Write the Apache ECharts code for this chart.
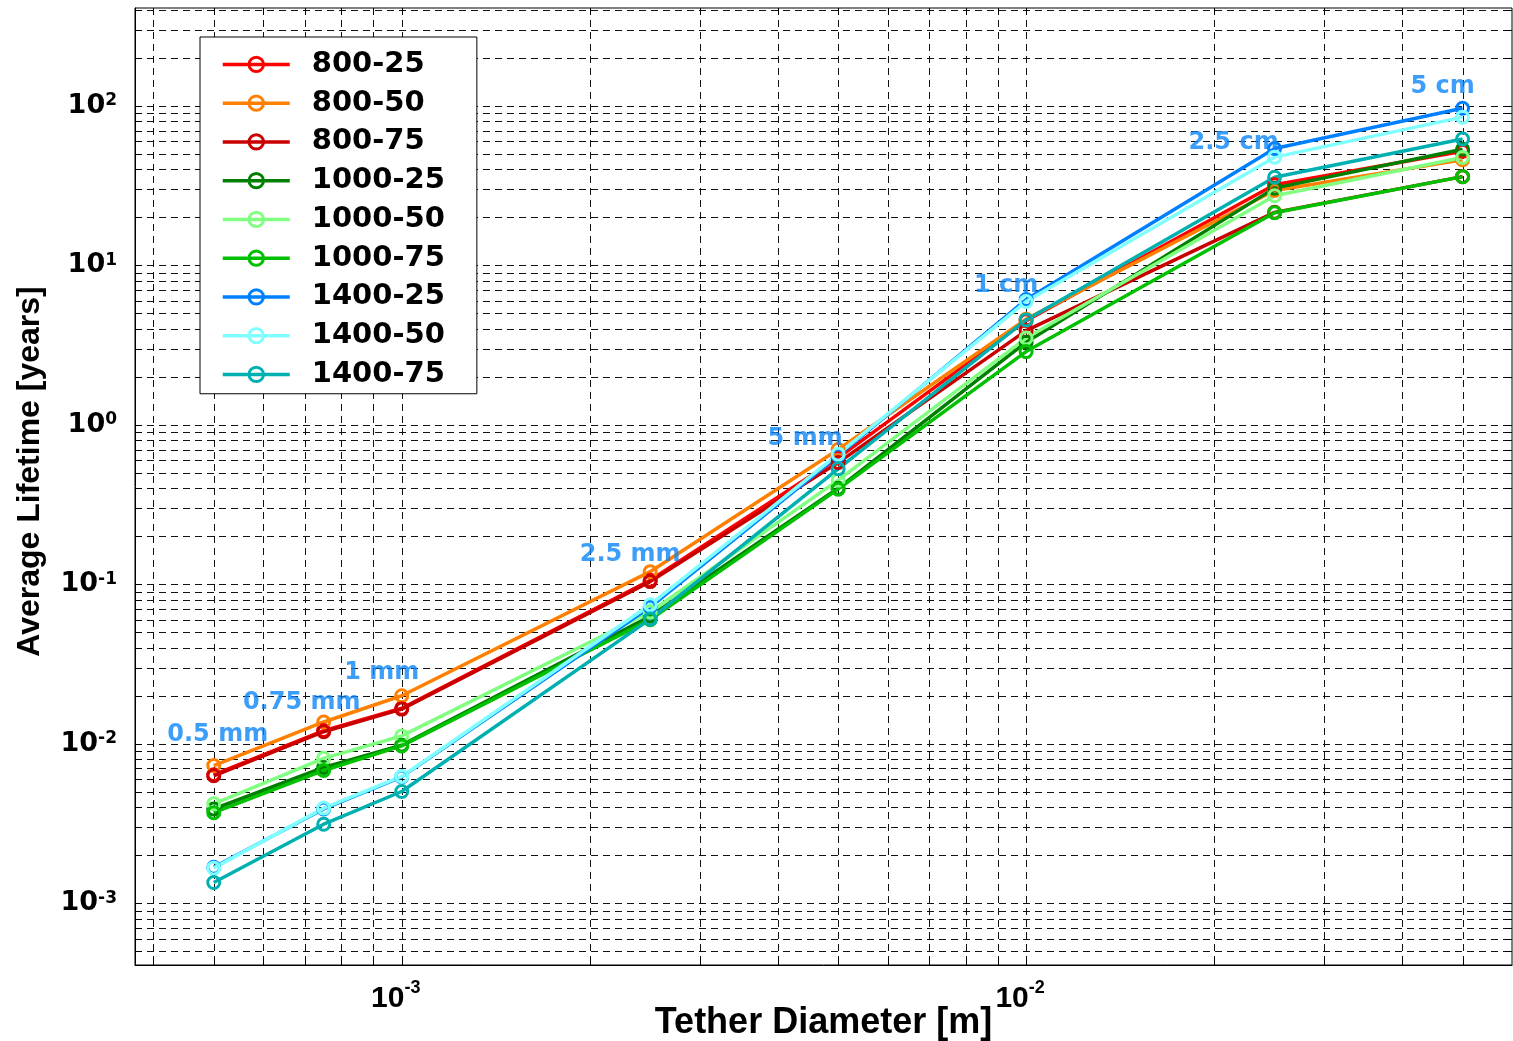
<!DOCTYPE html>
<html>
<head>
<meta charset="utf-8">
<script src="https://cdn.jsdelivr.net/npm/echarts@6/dist/echarts.min.js"></script>
<style>
  html, body { margin: 0; padding: 0; background: #fff; }
  #chart { width: 1513px; height: 1041px; }
</style>
</head>
<body>
<div id="chart"></div>
<script>
// Tether diameters [m] and their short labels
const diameters = [5e-4, 7.5e-4, 1e-3, 2.5e-3, 5e-3, 1e-2, 2.5e-2, 5e-2];
const diameterLabels = ['0.5 mm', '0.75 mm', '1 mm', '2.5 mm', '5 mm', '1 cm', '2.5 cm', '5 cm'];

// Average lifetime [years] per case
const seriesNames = ['800-25', '800-50', '800-75', '1000-25', '1000-50', '1000-75', '1400-25', '1400-50', '1400-75'];
const life800_25  = [0.0064, 0.0121, 0.0167, 0.106, 0.62, 4.5, 32, 52];
const life800_50  = [0.0073, 0.0137, 0.0200, 0.120, 0.70, 4.6, 29.5, 46];
const life800_75  = [0.0063, 0.0119, 0.0165, 0.104, 0.58, 3.9, 21.5, 36];
const life1000_25 = [0.0039, 0.0071, 0.0098, 0.063, 0.40, 3.3, 30.5, 53.5];
const life1000_50 = [0.0042, 0.0081, 0.0112, 0.067, 0.45, 3.5, 27.3, 47.5];
const life1000_75 = [0.0037, 0.0068, 0.0097, 0.060, 0.395, 2.88, 21.4, 36];
const life1400_25 = [0.00168, 0.0039, 0.0062, 0.072, 0.64, 6.1, 54, 96.7];
const life1400_50 = [0.00166, 0.00395, 0.00624, 0.0744, 0.655, 5.93, 47.7, 85];
const life1400_75 = [0.00135, 0.00313, 0.00502, 0.0605, 0.53, 4.55, 35.7, 62];

// Decade tick labels (powers of ten)
const xTickExponents = [-3, -2];
const yTickExponents = [-3, -2, -1, 0, 1, 2];

const lifeSeries = [life800_25, life800_50, life800_75, life1000_25, life1000_50,
                    life1000_75, life1400_25, life1400_50, life1400_75];
const colors = ['#ff0000', '#ff8000', '#c80000', '#008000', '#80ff80',
                '#00c000', '#0080ff', '#80ffff', '#00b0b0'];

const X_MIN = 3.74e-4, X_MAX = 0.06;
const Y_MIN = 4.1e-4, Y_MAX = 411;

// log grid positions: 1..9 times each decade inside the axis range
function logGrid(lo, hi) {
  const out = [];
  for (let e = Math.floor(Math.log10(lo)); e <= Math.ceil(Math.log10(hi)); e++) {
    for (let m = 1; m <= 9; m++) {
      const v = m * Math.pow(10, e);
      if (v > lo * 1.01 && v < hi * 0.99) out.push(v);
    }
  }
  return out;
}
const xGrid = logGrid(X_MIN, X_MAX);
const yGrid = logGrid(Y_MIN, Y_MAX);

function powerLabel(exps) {
  return function (value) {
    const l = Math.log10(value);
    const e = Math.round(l);
    if (Math.abs(l - e) < 1e-6 && exps.indexOf(e) >= 0) return '{b|10}{s|' + e + '}';
    return '';
  };
}

const GRID_DASH = [7, 5];
const TICK_LEN = 7;
const crisp = v => Math.round(v) + 0.5;

function vGridItem(params, api) {
  const x = crisp(api.coord([api.value(0), Y_MIN])[0]);
  const bottom = api.coord([api.value(0), Y_MIN])[1];
  const top = api.coord([api.value(0), Y_MAX])[1];
  return {
    type: 'group', children: [
      { type: 'line', shape: { x1: x, y1: top, x2: x, y2: bottom }, style: { stroke: '#111', lineWidth: 1, lineDash: GRID_DASH } },
      { type: 'line', shape: { x1: x, y1: bottom, x2: x, y2: bottom - TICK_LEN }, style: { stroke: '#000', lineWidth: 1 } },
      { type: 'line', shape: { x1: x, y1: top, x2: x, y2: top + TICK_LEN }, style: { stroke: '#000', lineWidth: 1 } }
    ]
  };
}
function hGridItem(params, api) {
  const y = crisp(api.coord([X_MIN, api.value(1)])[1]);
  const left = api.coord([X_MIN, api.value(1)])[0];
  const right = api.coord([X_MAX, api.value(1)])[0];
  return {
    type: 'group', children: [
      { type: 'line', shape: { x1: left, y1: y, x2: right, y2: y }, style: { stroke: '#111', lineWidth: 1, lineDash: GRID_DASH } },
      { type: 'line', shape: { x1: left, y1: y, x2: left + TICK_LEN, y2: y }, style: { stroke: '#000', lineWidth: 1 } },
      { type: 'line', shape: { x1: right, y1: y, x2: right - TICK_LEN, y2: y }, style: { stroke: '#000', lineWidth: 1 } }
    ]
  };
}

// Diameter callouts sit above the highest curve at each diameter
const calloutOffsets = [[4, -31], [-22, -19], [-20, -23], [-20, -17], [-33, -11], [-20, -14], [-41, -6], [-20, -21]];
const calloutData = diameters.map((d, i) => ({
  value: [d, Math.max.apply(null, lifeSeries.map(s => s[i]))],
  label: { offset: calloutOffsets[i] }
}));

const LINE_W = 3.5;
const lineSeries = seriesNames.map((name, k) => ({
  name: name,
  type: 'line',
  data: diameters.map((d, i) => [d, lifeSeries[k][i]]),
  symbol: 'circle',
  symbolSize: 12,
  lineStyle: { color: colors[k], width: LINE_W },
  itemStyle: { color: 'rgba(255,255,255,0)', borderColor: colors[k], borderWidth: 3 },
  emphasis: { disabled: true },
  z: 3
}));

const wideBold = "'DejaVu Sans', sans-serif";
const arialBold = "'Liberation Sans', Arial, sans-serif";

const option = {
  animation: false,
  backgroundColor: '#fff',
  grid: {
    left: 135, right: 1, top: 8, bottom: 76,
    containLabel: false, outerBoundsMode: 'none',
    show: true, borderColor: '#000', borderWidth: 1, backgroundColor: '#fff'
  },
  legend: {
    data: seriesNames,
    orient: 'vertical',
    left: 200,
    top: 37,
    padding: [8, 32, 0, 21],
    itemGap: 0,
    itemWidth: 67,
    itemHeight: 18,
    backgroundColor: '#fff',
    borderColor: '#000',
    borderWidth: 1,
    borderRadius: 0,
    selectedMode: false,
    lineStyle: { width: LINE_W },
    itemStyle: { borderWidth: 3 },
    textStyle: {
      fontFamily: wideBold, fontWeight: 'bold', fontSize: 29, color: '#000',
      lineHeight: 38.75, padding: [0, 0, 0, 17]
    }
  },
  xAxis: {
    type: 'log', logBase: 10, min: X_MIN, max: X_MAX,
    name: 'Tether Diameter [m]', nameLocation: 'middle', nameGap: 40, nameMoveOverlap: false,
    nameTextStyle: { fontFamily: arialBold, fontWeight: 'bold', fontSize: 36, color: '#000' },
    axisLine: { show: true, lineStyle: { color: '#000', width: 1 } },
    axisTick: { show: false },
    splitLine: { show: false },
    axisLabel: {
      show: true, margin: 14, showMinLabel: false, showMaxLabel: false,
      formatter: powerLabel(xTickExponents),
      rich: {
        b: { fontFamily: arialBold, fontWeight: 'bold', fontSize: 30, lineHeight: 30, color: '#000', padding: [9, 0, 0, 0] },
        s: { fontFamily: arialBold, fontWeight: 'bold', fontSize: 18, lineHeight: 18, color: '#000', verticalAlign: 'top', padding: [0, 12, 0, 0] }
      }
    }
  },
  yAxis: {
    type: 'log', logBase: 10, min: Y_MIN, max: Y_MAX,
    name: 'Average Lifetime [years]', nameLocation: 'middle', nameGap: 89, nameRotate: 90, nameMoveOverlap: false,
    nameTextStyle: { fontFamily: arialBold, fontWeight: 'bold', fontSize: 32, color: '#000', padding: [0, 0, 0, 30] },
    axisLine: { show: true, lineStyle: { color: '#000', width: 1 } },
    axisTick: { show: false },
    splitLine: { show: false },
    axisLabel: {
      show: true, margin: 18, showMinLabel: false, showMaxLabel: false,
      formatter: powerLabel(yTickExponents),
      rich: {
        b: { fontFamily: wideBold, fontWeight: 'bold', fontSize: 27, lineHeight: 27, color: '#000', padding: [9, 0, 9, 0] },
        s: { fontFamily: wideBold, fontWeight: 'bold', fontSize: 17, lineHeight: 17, color: '#000', verticalAlign: 'top' }
      }
    }
  },
  series: [
    { type: 'custom', name: 'xgrid', silent: true, z: 1, clip: false,
      data: xGrid.map(v => [v, 1]), renderItem: vGridItem },
    { type: 'custom', name: 'ygrid', silent: true, z: 1, clip: false,
      data: yGrid.map(v => [1e-3, v]), renderItem: hGridItem }
  ].concat(lineSeries).concat([
    { type: 'scatter', name: 'callouts', silent: true, z: 6,
      symbolSize: 1, itemStyle: { color: 'rgba(0,0,0,0)' },
      data: calloutData,
      label: {
        show: true, position: 'inside',
        formatter: p => diameterLabels[p.dataIndex],
        fontFamily: wideBold, fontWeight: 'bold', fontSize: 24, color: '#0d86f7'
      }
    }
  ])
};

const chart = echarts.init(document.getElementById('chart'));
chart.setOption(option);
</script>
</body>
</html>
